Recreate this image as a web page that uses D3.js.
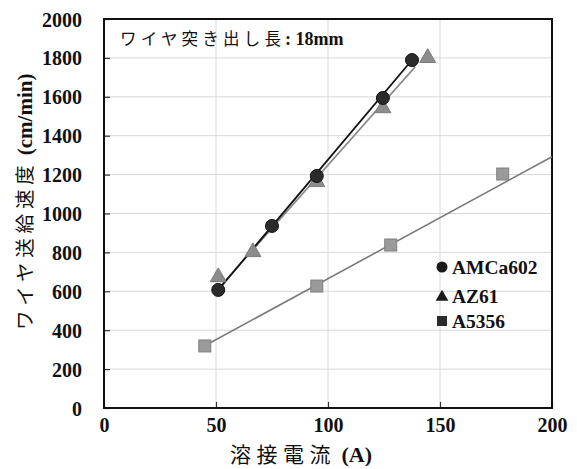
<!DOCTYPE html>
<html>
<head>
<meta charset="utf-8">
<script src="https://cdn.jsdelivr.net/npm/d3@7"></script>
<style>
  body { margin: 0; background: #fff; }
  svg { display: block; }
  .tick text { font-family: "Liberation Serif", serif; font-weight: bold; font-size: 20px; fill: #111; }
</style>
</head>
<body>
<div id="chart"></div>
<script>
// values
var xTicks = [0, 50, 100, 150, 200];
var yTicks = [0, 200, 400, 600, 800, 1000, 1200, 1400, 1600, 1800, 2000];

var amcaX = [51, 75, 95, 124.5, 137.5];
var amcaY = [607, 936, 1193, 1594, 1789];
var az61X = [51, 66.5, 95, 124.5, 144.5];
var az61Y = [673, 802, 1162, 1542, 1800];
var a5356X = [45, 95, 128, 178];
var a5356Y = [319, 627, 838, 1203];

// fitted lines as drawn in the figure (end points)
var amcaFitX = [51, 137.5];
var amcaFitY = [607, 1789];
var az61FitX = [52.5, 139];
var az61FitY = [632, 1755];
var a5356FitX = [45, 200];
var a5356FitY = [320, 1292];

var legendNames = ["AMCa602", "AZ61", "A5356"];

var W = 577, H = 469;
var padL = 104, padR = 552, padT = 19, padB = 408;

var svg = d3.select("#chart").append("svg")
    .attr("width", W)
    .attr("height", H);

var x = d3.scaleLinear().domain([0, 200]).range([padL, padR]);
var y = d3.scaleLinear().domain([0, 2000]).range([padB, padT]);

function zip(xs, ys){
    return xs.map(function(d, i){ return [d, ys[i]]; });
}

//grid
svg.append("g").selectAll("line").data(yTicks.slice(1, -1)).enter().append("line")
    .attr("x1", padL).attr("x2", padR)
    .attr("y1", function(d){ return y(d); })
    .attr("y2", function(d){ return y(d); })
    .style("stroke", "#d8d8d8").style("stroke-width", "1px");
svg.append("g").selectAll("line").data(xTicks.slice(1, -1)).enter().append("line")
    .attr("y1", padT).attr("y2", padB)
    .attr("x1", function(d){ return x(d); })
    .attr("x2", function(d){ return x(d); })
    .style("stroke", "#d8d8d8").style("stroke-width", "1px");

//axes with inner ticks
var yAxis = svg.append("g").attr("transform", "translate(" + padL + ",0)")
    .call(d3.axisLeft(y).tickValues(yTicks).tickFormat(d3.format("d")).tickSize(-6).tickPadding(22));
var xAxis = svg.append("g").attr("transform", "translate(0," + padB + ")")
    .call(d3.axisBottom(x).tickValues(xTicks).tickFormat(d3.format("d")).tickSize(-6).tickPadding(10));
[yAxis, xAxis].forEach(function(a){
    a.select(".domain").remove();
    a.selectAll(".tick line").style("stroke", "#333").style("stroke-width", "1.2px");
});
yAxis.selectAll(".tick text").attr("dy", "0.35em");

//frame
svg.append("rect")
    .attr("x", padL).attr("y", padT)
    .attr("width", padR - padL).attr("height", padB - padT)
    .style("fill", "none").style("stroke", "#111").style("stroke-width", "2px");

var line = d3.line().x(function(d){ return x(d[0]); }).y(function(d){ return y(d[1]); });

//fit lines
svg.append("path").datum(zip(a5356FitX, a5356FitY)).attr("d", line)
    .style("fill", "none").style("stroke", "#7a7a7a").style("stroke-width", "1.6px");
svg.append("path").datum(zip(az61FitX, az61FitY)).attr("d", line)
    .style("fill", "none").style("stroke", "#888").style("stroke-width", "1.6px");
svg.append("path").datum(zip(amcaFitX, amcaFitY)).attr("d", line)
    .style("fill", "none").style("stroke", "#111").style("stroke-width", "1.8px");

//markers
var tri = d3.symbol().type(d3.symbolTriangle).size(110);
svg.append("g").selectAll("rect").data(zip(a5356X, a5356Y)).enter().append("rect")
    .attr("x", function(d){ return x(d[0]) - 6; })
    .attr("y", function(d){ return y(d[1]) - 6; })
    .attr("width", 12).attr("height", 12)
    .style("fill", "#9a9a9a").style("stroke", "#808080").style("stroke-width", "1px");
svg.append("g").selectAll("path").data(zip(az61X, az61Y)).enter().append("path")
    .attr("d", tri)
    .attr("transform", function(d){ return "translate(" + x(d[0]) + "," + y(d[1]) + ")"; })
    .style("fill", "#8c8c8c").style("stroke", "#7a7a7a").style("stroke-width", "1px");
svg.append("g").selectAll("circle").data(zip(amcaX, amcaY)).enter().append("circle")
    .attr("cx", function(d){ return x(d[0]); })
    .attr("cy", function(d){ return y(d[1]); })
    .attr("r", 6.5)
    .style("fill", "#2b2b2b").style("stroke", "#111").style("stroke-width", "1px");

//legend
var lg = svg.append("g").attr("transform", "translate(442,267)");
legendNames.forEach(function(name, i){
    var gy = [0, 29, 54][i];
    if(i === 0){
        lg.append("circle").attr("cx", 0).attr("cy", gy).attr("r", 5.5).style("fill", "#1a1a1a");
    } else if(i === 1){
        lg.append("path").attr("d", d3.symbol().type(d3.symbolTriangle).size(70))
            .attr("transform", "translate(0," + (gy + 1) + ")").style("fill", "#1a1a1a");
    } else {
        lg.append("rect").attr("x", -5).attr("y", gy - 5).attr("width", 10).attr("height", 10)
            .style("fill", "#2a2a2a");
    }
    lg.append("text").attr("x", 10).attr("y", gy + 6.5).text(name)
        .style("font-family", "Liberation Serif, serif").style("font-weight", "bold")
        .style("font-size", "19.5px").style("fill", "#111");
});

//annotation
var note = svg.append("text").attr("x", 120).attr("y", 45).style("fill", "#111");
note.append("tspan").text("ワイヤ突き出し長")
    .style("font-family", "Noto Sans CJK JP, sans-serif").style("font-size", "16.5px")
    .style("letter-spacing", "4.2px");
note.append("tspan").text(": 18mm")
    .style("font-family", "Liberation Serif, serif").style("font-weight", "bold")
    .style("font-size", "18px");

//axis titles
var xt = svg.append("text").attr("x", 230).attr("y", 462).style("fill", "#111");
xt.append("tspan").text("溶接電流")
    .style("font-family", "Noto Sans CJK JP, sans-serif").style("font-size", "21px")
    .style("letter-spacing", "5.5px");
xt.append("tspan").text(" (A)")
    .style("font-family", "Liberation Serif, serif").style("font-weight", "bold")
    .style("font-size", "22px");

var yt = svg.append("text").attr("transform", "translate(32,330) rotate(-90)").style("fill", "#111");
yt.append("tspan").text("ワイヤ送給速度")
    .style("font-family", "Noto Sans CJK JP, sans-serif").style("font-size", "19.5px")
    .style("letter-spacing", "4.8px");
yt.append("tspan").text(" (cm/min)")
    .style("font-family", "Liberation Serif, serif").style("font-weight", "bold")
    .style("font-size", "21px");
</script>
</body>
</html>
